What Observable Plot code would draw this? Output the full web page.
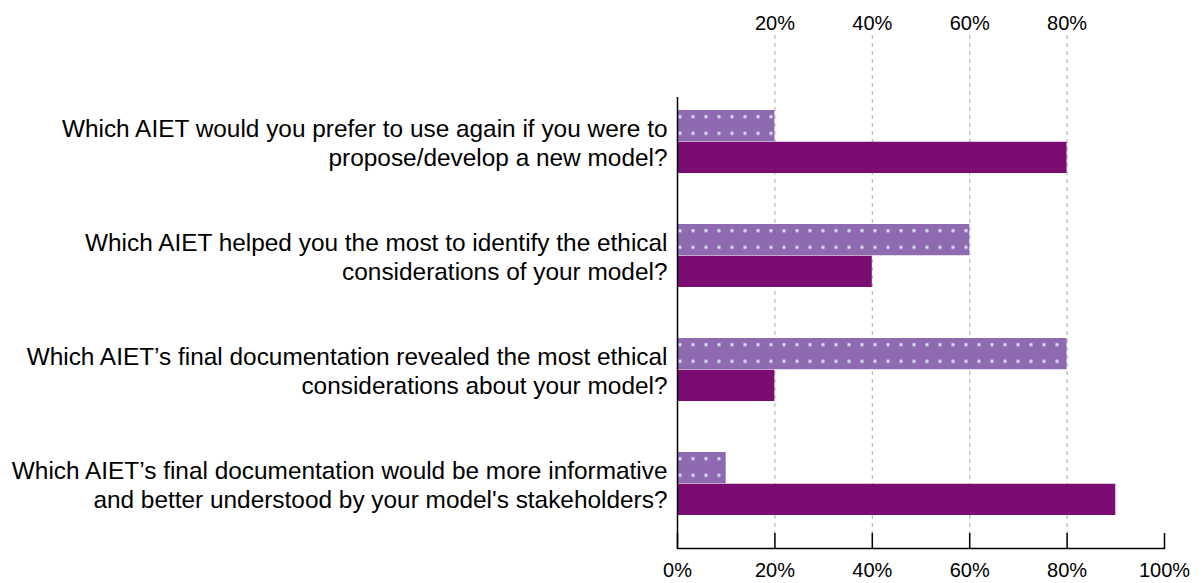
<!DOCTYPE html>
<html><head><meta charset="utf-8">
<script src="https://cdn.jsdelivr.net/npm/d3@7"></script>
<script src="https://cdn.jsdelivr.net/npm/@observablehq/plot@0.6"></script>
<style>
body{margin:0;background:#fff;}
svg{font-family:"Liberation Sans", Arial, sans-serif;}
</style>
</head><body><div id="chart"></div>
<script>
const questions = [
  "Which AIET would you prefer to use again if you were to\npropose/develop a new model?",
  "Which AIET helped you the most to identify the ethical\nconsiderations of your model?",
  "Which AIET\u2019s final documentation revealed the most ethical\nconsiderations about your model?",
  "Which AIET\u2019s final documentation would be more informative\nand better understood by your model's stakeholders?"
];
const dottedShare = [20, 60, 80, 10];
const solidShare = [80, 40, 20, 90];
const bottomTicks = [0, 20, 40, 60, 80, 100];
const topTicks = [20, 40, 60, 80];

const rows = questions.map((q, i) => ({question: q, dotted: dottedShare[i], solid: solidShare[i]}));
const pct = d => d + "%";
const lightColor = "#8e6bb1";
const darkColor = "#7b0c72";

const chart = Plot.plot({
  width: 1204, height: 583,
  marginLeft: 677, marginRight: 40, marginTop: 97, marginBottom: 35,
  style: {fontSize: "20px", fontFamily: "'Liberation Sans', Arial, sans-serif", background: "#fff", color: "#000"},
  x: {domain: [0, 100], axis: null},
  y: {domain: questions, range: [109, 517], paddingInner: 0.447, paddingOuter: 0, axis: null},
  marks: [
    Plot.ruleX(topTicks, {stroke: "#b5b5b5", strokeWidth: 1.2, strokeDasharray: "4,4", insetTop: -62}),
    Plot.barX(rows, {y: "question", x: "dotted", fill: lightColor, insetBottom: 31.75}),
    Plot.barX(rows, {y: "question", x: "solid", fill: darkColor, insetTop: 31.75}),
    Plot.ruleX([0], {stroke: "#000", strokeWidth: 1.5}),
    Plot.frame({anchor: "bottom", stroke: "#000", strokeWidth: 1.5}),
    Plot.ruleX(bottomTicks, {stroke: "#000", strokeWidth: 1.5, insetTop: 436}),
    Plot.axisX(bottomTicks, {anchor: "bottom", tickSize: 0, tickPadding: 14, tickFormat: pct, fontSize: 20, fill: "#000"}),
    Plot.axisX(topTicks, {anchor: "top", tickSize: 0, tickPadding: 68, tickFormat: pct, fontSize: 20, fill: "#000"}),
    Plot.text(rows, {y: "question", text: "question", frameAnchor: "left", textAnchor: "end", dx: -10, lineHeight: 1.19, fontSize: 24.4, fill: "#000"})
  ]
});

document.getElementById("chart").appendChild(chart);

// dotted texture for the light bars
const ns = "http://www.w3.org/2000/svg";
const defs = document.createElementNS(ns, "defs");
chart.insertBefore(defs, chart.firstChild);
const lightRects = Array.from(chart.querySelectorAll("rect")).filter(r => {
  const g = r.closest("g");
  const f = (r.getAttribute("fill") || (g && g.getAttribute("fill")) || "").toLowerCase();
  return f === lightColor;
});
lightRects.forEach((r, i) => {
  const bx = +r.getAttribute("x") || 0;
  const by = +r.getAttribute("y") || 0;
  const p = document.createElementNS(ns, "pattern");
  p.setAttribute("id", "dots" + i);
  p.setAttribute("patternUnits", "userSpaceOnUse");
  p.setAttribute("x", bx);
  p.setAttribute("y", by);
  p.setAttribute("width", 13);
  p.setAttribute("height", 16.6);
  const bg = document.createElementNS(ns, "rect");
  bg.setAttribute("width", 13); bg.setAttribute("height", 16.6); bg.setAttribute("fill", lightColor);
  const dot = document.createElementNS(ns, "rect");
  dot.setAttribute("x", 1.5); dot.setAttribute("y", 5.2);
  dot.setAttribute("width", 3); dot.setAttribute("height", 3); dot.setAttribute("fill", "#dcdff6");
  p.appendChild(bg); p.appendChild(dot);
  defs.appendChild(p);
  r.setAttribute("fill", "url(#dots" + i + ")");
});
</script>
</body></html>
